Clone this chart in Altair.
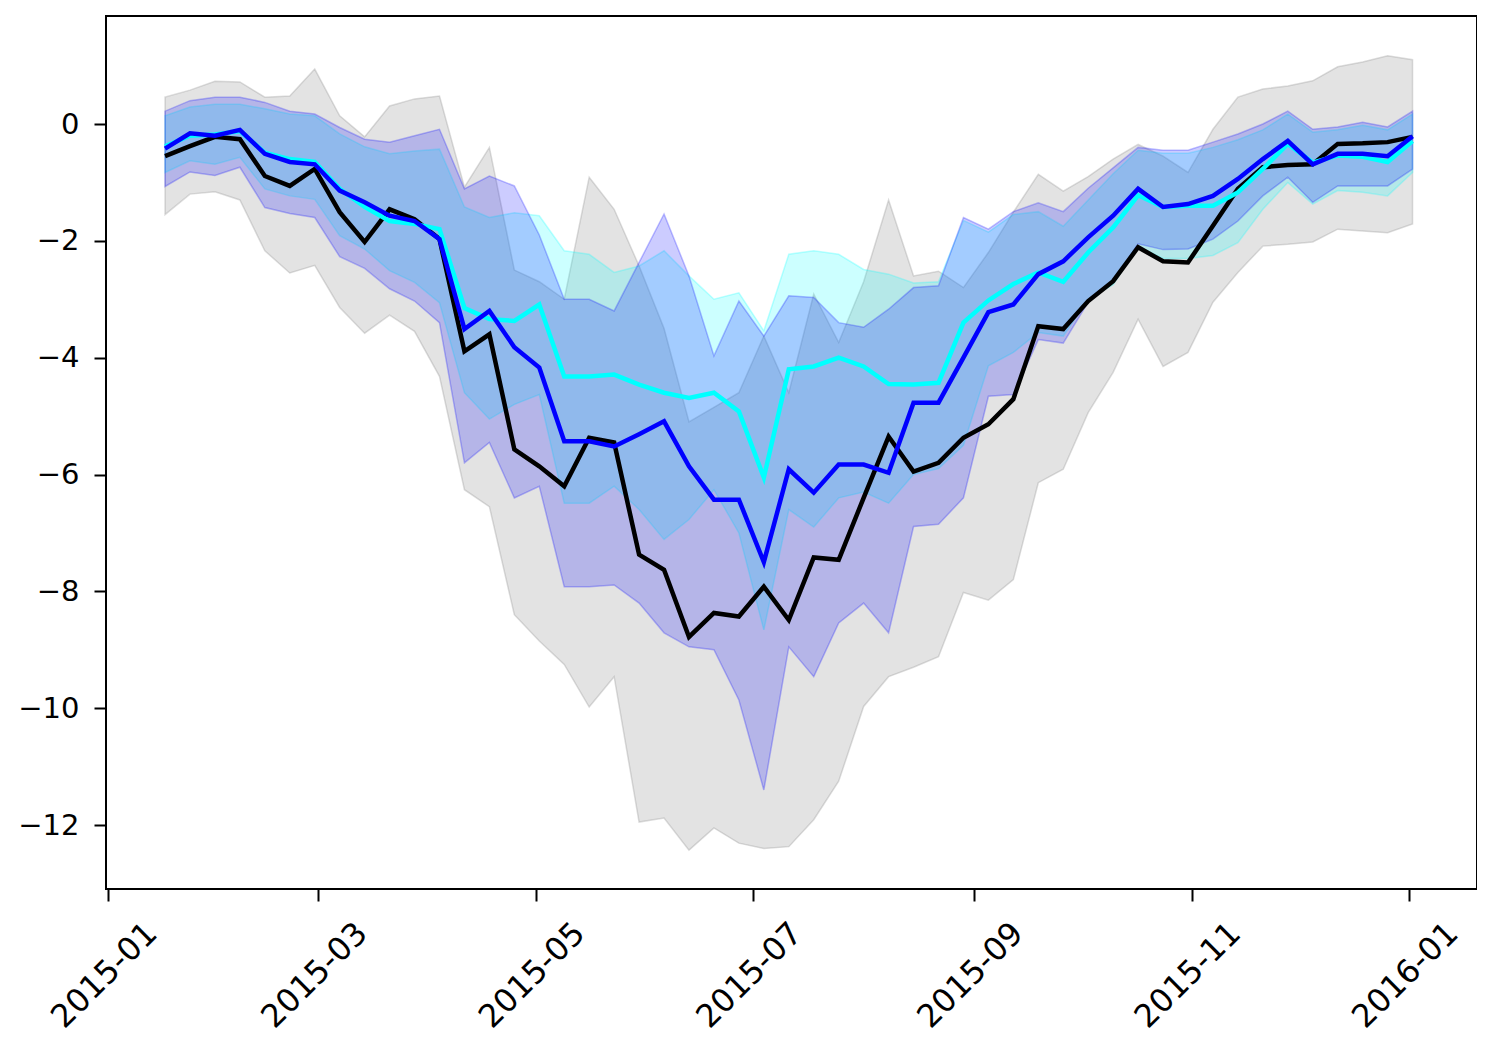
import altair as alt
import pandas as pd

# weekly time stamps (x positions)
dates = pd.date_range("2015-01-17", periods=51, freq="7D").strftime("%Y-%m-%d").tolist()

# observed series (black line)
obs = [-0.55, -0.38, -0.22, -0.26, -0.89, -1.06, -0.77, -1.51, -2.02, -1.46,
       -1.63, -1.97, -3.89, -3.60, -5.57, -5.86, -6.20, -5.37, -5.45, -7.37,
       -7.63, -8.78, -8.37, -8.43, -7.92, -8.49, -7.42, -7.46, -6.40, -5.35,
       -5.95, -5.80, -5.37, -5.14, -4.71, -3.46, -3.51, -3.03, -2.69, -2.11,
       -2.35, -2.37, -1.74, -1.11, -0.74, -0.70, -0.69, -0.34, -0.33, -0.31,
       -0.22]
obs_lo = [-1.55, -1.20, -1.16, -1.30, -2.17, -2.55, -2.42, -3.14, -3.58, -3.27,
          -3.55, -4.32, -6.26, -6.55, -8.40, -8.85, -9.25, -9.98, -9.46, -11.95,
          -11.88, -12.43, -12.05, -12.31, -12.40, -12.37, -11.91, -11.25, -9.97, -9.46,
          -9.30, -9.12, -8.02, -8.15, -7.80, -6.14, -5.91, -4.94, -4.25, -3.34,
          -4.15, -3.91, -3.05, -2.54, -2.09, -2.06, -2.02, -1.80, -1.83, -1.86,
          -1.71]
obs_hi = [0.46, 0.58, 0.73, 0.72, 0.46, 0.48, 0.94, 0.14, -0.22, 0.31,
          0.43, 0.48, -1.08, -0.40, -2.50, -2.70, -3.00, -0.91, -1.46, -2.43,
          -3.50, -5.10, -4.85, -4.60, -3.63, -4.60, -2.91, -3.74, -2.70, -1.30,
          -2.60, -2.52, -2.80, -2.20, -1.51, -0.86, -1.15, -0.90, -0.60, -0.35,
          -0.55, -0.83, -0.09, 0.46, 0.60, 0.65, 0.74, 0.98, 1.06, 1.17,
          1.10]

# blue series
blue = [-0.42, -0.16, -0.20, -0.10, -0.51, -0.65, -0.69, -1.14, -1.34, -1.57,
        -1.66, -1.97, -3.51, -3.20, -3.82, -4.17, -5.43, -5.43, -5.52, -5.31,
        -5.09, -5.86, -6.43, -6.43, -7.50, -5.91, -6.31, -5.83, -5.83, -5.97,
        -4.77, -4.77, -4.00, -3.22, -3.09, -2.57, -2.35, -1.94, -1.57, -1.11,
        -1.42, -1.37, -1.23, -0.94, -0.60, -0.29, -0.69, -0.51, -0.51, -0.55,
        -0.21]
blue_lo = [-1.07, -0.82, -0.88, -0.74, -1.43, -1.53, -1.60, -2.27, -2.47, -2.82,
           -3.03, -3.40, -5.80, -5.45, -6.40, -6.20, -7.92, -7.92, -7.89, -8.20,
           -8.71, -8.95, -9.00, -9.86, -11.40, -8.95, -9.46, -8.54, -8.20, -8.71,
           -6.89, -6.85, -6.40, -4.66, -4.63, -3.69, -3.75, -3.05, -2.70, -2.05,
           -2.15, -2.14, -1.97, -1.66, -1.23, -0.91, -1.34, -1.06, -1.06, -1.06,
           -0.77]
blue_hi = [0.22, 0.40, 0.46, 0.46, 0.37, 0.22, 0.17, -0.06, -0.26, -0.31,
           -0.20, -0.09, -1.11, -0.89, -1.06, -1.90, -3.00, -3.00, -3.20, -2.37,
           -1.54, -2.60, -3.97, -3.03, -3.63, -2.94, -2.97, -3.40, -3.48, -3.17,
           -2.80, -2.77, -1.60, -1.80, -1.50, -1.35, -1.50, -1.10, -0.75, -0.40,
           -0.45, -0.45, -0.31, -0.17, 0.00, 0.22, -0.09, -0.05, 0.03, -0.05,
           0.22]

# cyan series
cyan = [-0.38, -0.20, -0.18, -0.12, -0.49, -0.60, -0.65, -1.11, -1.42, -1.66,
        -1.71, -1.80, -3.15, -3.34, -3.37, -3.09, -4.32, -4.32, -4.29, -4.46,
        -4.60, -4.69, -4.60, -4.92, -6.05, -4.20, -4.15, -4.00, -4.15, -4.45,
        -4.46, -4.43, -3.40, -3.02, -2.74, -2.54, -2.70, -2.20, -1.77, -1.22,
        -1.42, -1.40, -1.40, -1.17, -0.77, -0.34, -0.66, -0.54, -0.56, -0.65,
        -0.29]
cyan_lo = [-0.83, -0.63, -0.69, -0.57, -1.11, -1.23, -1.29, -1.91, -2.14, -2.51,
           -2.71, -3.06, -4.60, -5.05, -4.80, -4.63, -6.49, -6.49, -6.20, -6.60,
           -7.11, -6.77, -6.26, -7.00, -8.66, -6.60, -6.90, -6.40, -6.30, -6.49,
           -6.00, -5.90, -5.50, -4.14, -3.91, -3.57, -3.63, -3.00, -2.75, -2.10,
           -2.30, -2.30, -2.25, -2.03, -1.46, -1.00, -1.37, -1.14, -1.17, -1.23,
           -0.83]
cyan_hi = [0.14, 0.29, 0.34, 0.34, 0.26, 0.17, 0.14, -0.17, -0.39, -0.51,
           -0.46, -0.43, -1.42, -1.60, -1.52, -1.57, -2.17, -2.23, -2.54, -2.43,
           -2.17, -2.60, -3.00, -2.89, -3.54, -2.23, -2.17, -2.23, -2.49, -2.57,
           -2.72, -2.70, -1.65, -1.85, -1.55, -1.50, -1.75, -1.30, -0.85, -0.45,
           -0.50, -0.50, -0.40, -0.27, -0.10, 0.17, -0.14, -0.10, -0.02, -0.10,
           0.17]

y_ticks = [-12, -10, -8, -6, -4, -2, 0]
x_ticks = [(2015, 1), (2015, 3), (2015, 5), (2015, 7), (2015, 9), (2015, 11), (2016, 1)]

df = pd.DataFrame({
    "date": dates, "obs": obs, "obs_lo": obs_lo, "obs_hi": obs_hi,
    "blue": blue, "blue_lo": blue_lo, "blue_hi": blue_hi,
    "cyan": cyan, "cyan_lo": cyan_lo, "cyan_hi": cyan_hi,
})

FONT = "DejaVu Sans"

xscale = alt.Scale(
    type="utc", nice=False,
    domain=[alt.DateTime(year=2014, month=12, date=31, hours=10, minutes=30, utc=True),
            alt.DateTime(year=2016, month=1, date=20, hours=2, utc=True)],
)
yscale = alt.Scale(domain=[-13.095, 1.849], nice=False, zero=False)

xaxis = alt.Axis(
    values=[alt.DateTime(year=y, month=m, date=1, utc=True) for y, m in x_ticks],
    format="%Y-%m", title=None, grid=False, domain=False,
    tickSize=12, tickWidth=2, tickColor="black",
    labelAngle=-45, labelAlign="center", labelBaseline="middle",
    labelPadding=74, labelOffset=-4, labelFlush=False, labelOverlap=False,
    labelFont=FONT, labelFontSize=32, labelColor="black",
)
yaxis = alt.Axis(
    values=y_ticks, format="d", title=None, grid=False, domain=False,
    tickSize=12, tickWidth=2, tickColor="black", labelPadding=15,
    labelFont=FONT, labelFontSize=29, labelColor="black",
)

X = alt.X("date:T", scale=xscale, axis=xaxis)
base = alt.Chart(df)


def band(lo, hi, color, op):
    return base.mark_area(
        fill=color, fillOpacity=op, stroke=color, strokeOpacity=op + 0.05, strokeWidth=1.5
    ).encode(x=X, y=alt.Y(f"{lo}:Q", scale=yscale, axis=yaxis), y2=f"{hi}:Q")


def line(field, color):
    return base.mark_line(color=color, strokeWidth=4.5).encode(
        x=X, y=alt.Y(f"{field}:Q", scale=yscale, axis=yaxis)
    )


chart = alt.layer(
    band("obs_lo", "obs_hi", "#808080", 0.22),
    band("cyan_lo", "cyan_hi", "#00ffff", 0.2),
    band("blue_lo", "blue_hi", "#0000ff", 0.2),
    line("obs", "black"),
    line("cyan", "#00ffff"),
    line("blue", "#0000ff"),
).properties(
    width=1371, height=873,
    padding={"left": 98, "top": 8, "right": 0, "bottom": 147},
    autosize=alt.AutoSizeParams(type="none"),
    background="white",
).configure_view(stroke="black", strokeWidth=2)

chart.save("out.html", embed_options={"renderer": "svg", "actions": False})
